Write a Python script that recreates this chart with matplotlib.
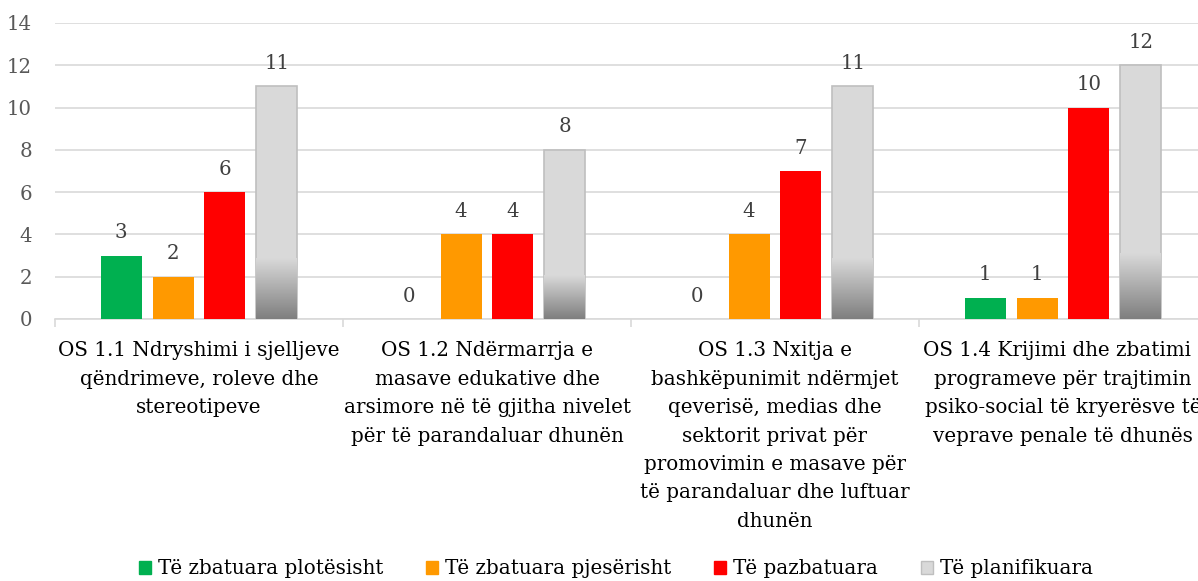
import matplotlib.pyplot as plt
import numpy as np
from matplotlib.patches import Patch
from matplotlib.colors import LinearSegmentedColormap

kategorite = [
    "OS 1.1 Ndryshimi i sjelljeve\nqëndrimeve, roleve dhe\nstereotipeve",
    "OS 1.2 Ndërmarrja e\nmasave edukative dhe\narsimore në të gjitha nivelet\npër të parandaluar dhunën",
    "OS 1.3 Nxitja e\nbashkëpunimit ndërmjet\nqeverisë, medias dhe\nsektorit privat për\npromovimin e masave për\ntë parandaluar dhe luftuar\ndhunën",
    "OS 1.4 Krijimi dhe zbatimi i\nprogrameve për trajtimin\npsiko-social të kryerësve të\nveprave penale të dhunës",
]
seri_emrat = ["Të zbatuara plotësisht", "Të zbatuara pjesërisht", "Të pazbatuara", "Të planifikuara"]
plotesisht = [3, 0, 0, 1]
pjeserisht = [2, 4, 4, 1]
pazbatuara = [6, 4, 7, 10]
planifikuara = [11, 8, 11, 12]

ngjyrat = ["#00b050", "#ff9900", "#ff0000", "#d9d9d9"]
seri = [plotesisht, pjeserisht, pazbatuara, planifikuara]

plt.rcParams['font.family'] = ['DejaVu Serif']

fig = plt.figure(figsize=(11.98, 5.81), dpi=100)
ax = fig.add_axes([55 / 1198, 262 / 581, 1152 / 1198, 296 / 581])

x = np.arange(len(kategorite))
gjeresia = 0.142
hapi = 0.18
zhvendosje = [-1.5, -0.5, 0.5, 1.5]

# shiriti gri ka gradient ne pjesen e poshtme
gri_cmap = LinearSegmentedColormap.from_list("gri", ["#7f7f7f", "#d9d9d9"])
gradient = np.linspace(0, 1, 100).reshape(-1, 1)

for i, vlerat in enumerate(seri):
    pozicionet = x + zhvendosje[i] * hapi
    if i == 3:
        bars = ax.bar(pozicionet, vlerat, gjeresia, color=ngjyrat[i],
                      edgecolor="#bfbfbf", linewidth=1.2, zorder=3)
        for b, v in zip(bars, vlerat):
            x0 = b.get_x()
            im = ax.imshow(gradient, extent=(x0, x0 + gjeresia, 0, v * 0.26),
                           origin="lower", cmap=gri_cmap, aspect="auto", zorder=3.5)
            im.set_clip_path(b)
    else:
        bars = ax.bar(pozicionet, vlerat, gjeresia, color=ngjyrat[i], zorder=3)
    for p, v in zip(pozicionet, vlerat):
        ax.annotate(str(v), (p, v), xytext=(0, 16.5), textcoords="offset points",
                    ha="center", va="center", fontsize=14.2, color="#404040")

ax.set_xlim(-0.5, 3.5)
ax.set_ylim(0, 14)
ax.set_yticks(range(0, 15, 2))
ax.yaxis.grid(True, color="#d9d9d9", linewidth=1.2, zorder=0)
ax.set_axisbelow(True)
for s in ["left", "right", "top"]:
    ax.spines[s].set_visible(False)
ax.spines["bottom"].set_color("#d9d9d9")
ax.spines["bottom"].set_linewidth(1.2)
ax.tick_params(axis="y", length=0, labelsize=14.2, labelcolor="#595959", pad=16.5)

ax.set_xticks(x)
ax.set_xticklabels(kategorite, fontsize=14.3, color="black", linespacing=1.63, va="top")
ax.tick_params(axis="x", length=0, pad=16)
ax.set_xticks(np.arange(-0.5, 4, 1), minor=True)
ax.tick_params(axis="x", which="minor", length=6, color="#d9d9d9", width=1.2)

handles = [Patch(facecolor=c, edgecolor=("#bfbfbf" if k == 3 else c)) for k, c in enumerate(ngjyrat)]
fig.legend(handles, seri_emrat, loc="center", bbox_to_anchor=(616 / 1198, 12 / 581),
           ncol=4, frameon=False, prop={"family": "DejaVu Serif", "size": 14.3},
           handlelength=0.6, handleheight=0.6, handletextpad=0.35, columnspacing=2.15)

plt.savefig("out.png", dpi=100)
